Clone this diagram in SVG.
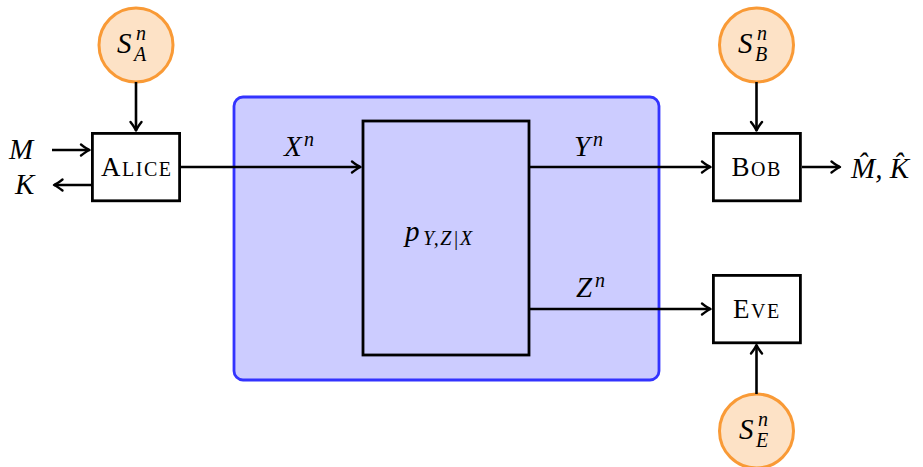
<svg xmlns="http://www.w3.org/2000/svg" width="923" height="467" viewBox="0 0 923 467">
<style>
.box{fill:#fff;stroke:#000;stroke-width:2.8}
.src{fill:#fde2c6;stroke:#f99a36;stroke-width:3}
.ln{fill:none;stroke:#000;stroke-width:2.6}
.m{font-family:"Liberation Serif","DejaVu Serif",serif;font-style:italic;fill:#000}
.s{font-size:20px}
.sc{font-family:"Liberation Serif","DejaVu Serif",serif;fill:#000;font-size:27px;letter-spacing:1.5px}
.sc tspan{font-size:20px}
</style>
<defs>
<marker id="ar" viewBox="-11 -8 13 16" refX="0" refY="0" markerWidth="13" markerHeight="16" markerUnits="userSpaceOnUse" orient="auto">
<path d="M-8.5,-5.5 Q-3,-1.2 0,0 Q-3,1.2 -8.5,5.5" fill="none" stroke="#000" stroke-width="2.4" stroke-linecap="round" stroke-linejoin="round"/>
</marker>
</defs>
<g id="channel">
<rect x="234" y="97" width="425" height="283" rx="9" fill="#ccccff" stroke="#3333ff" stroke-width="2.8"/>
<rect x="363" y="121" width="166" height="234" fill="none" stroke="#000" stroke-width="2.8"/>
<text class="m" x="405" y="241" font-size="29">p<tspan class="s" x="423" y="245" letter-spacing="1.5">Y,Z|X</tspan></text>
</g>
<g id="alice">
<rect class="box" x="92.4" y="133.4" width="87.2" height="67.4"/>
<text class="sc" x="101" y="176">A<tspan>LICE</tspan></text>
</g>
<g id="bob">
<rect class="box" x="713.4" y="133.4" width="87" height="67.4"/>
<text class="sc" x="731.5" y="176">B<tspan>OB</tspan></text>
</g>
<g id="eve">
<rect class="box" x="713.4" y="275.4" width="87" height="67.4"/>
<text class="sc" x="733" y="318">E<tspan>VE</tspan></text>
</g>
<g id="sa">
<circle class="src" cx="136" cy="45" r="37"/>
<text class="m" x="117" y="53" font-size="29">S<tspan class="s" x="136" y="40">n</tspan><tspan class="s" x="134" y="61">A</tspan></text>
</g>
<g id="sb">
<circle class="src" cx="756.5" cy="45" r="37"/>
<text class="m" x="738" y="53" font-size="29">S<tspan class="s" x="757" y="40">n</tspan><tspan class="s" x="755" y="61">B</tspan></text>
</g>
<g id="se">
<circle class="src" cx="756.5" cy="431" r="37"/>
<text class="m" x="739" y="439" font-size="29">S<tspan class="s" x="758" y="426">n</tspan><tspan class="s" x="756" y="447">E</tspan></text>
</g>
<g id="connectors">
<path class="ln" d="M136,82 V130.5" marker-end="url(#ar)"/>
<path class="ln" d="M756.5,82 V130.5" marker-end="url(#ar)"/>
<path class="ln" d="M756.5,394 V345" marker-end="url(#ar)"/>
<path class="ln" d="M52,150 H89.5" marker-end="url(#ar)"/>
<path class="ln" d="M91,185 H54" marker-end="url(#ar)"/>
<path class="ln" d="M181,167 H360.5" marker-end="url(#ar)"/>
<path class="ln" d="M530,167 H710.5" marker-end="url(#ar)"/>
<path class="ln" d="M530,309 H710.5" marker-end="url(#ar)"/>
<path class="ln" d="M802,167 H840" marker-end="url(#ar)"/>
</g>
<g id="labels">
<text class="m" x="9" y="159" font-size="29">M</text>
<text class="m" x="15" y="194" font-size="29">K</text>
<text class="m" x="284" y="156" font-size="29">X<tspan class="s" x="304" y="146">n</tspan></text>
<text class="m" x="574" y="156" font-size="29">Y<tspan class="s" x="593" y="146">n</tspan></text>
<text class="m" x="576" y="297" font-size="29">Z<tspan class="s" x="595" y="287">n</tspan></text>
<text class="m" x="851" y="178" font-size="29">M̂, K̂</text>
</g>
</svg>
